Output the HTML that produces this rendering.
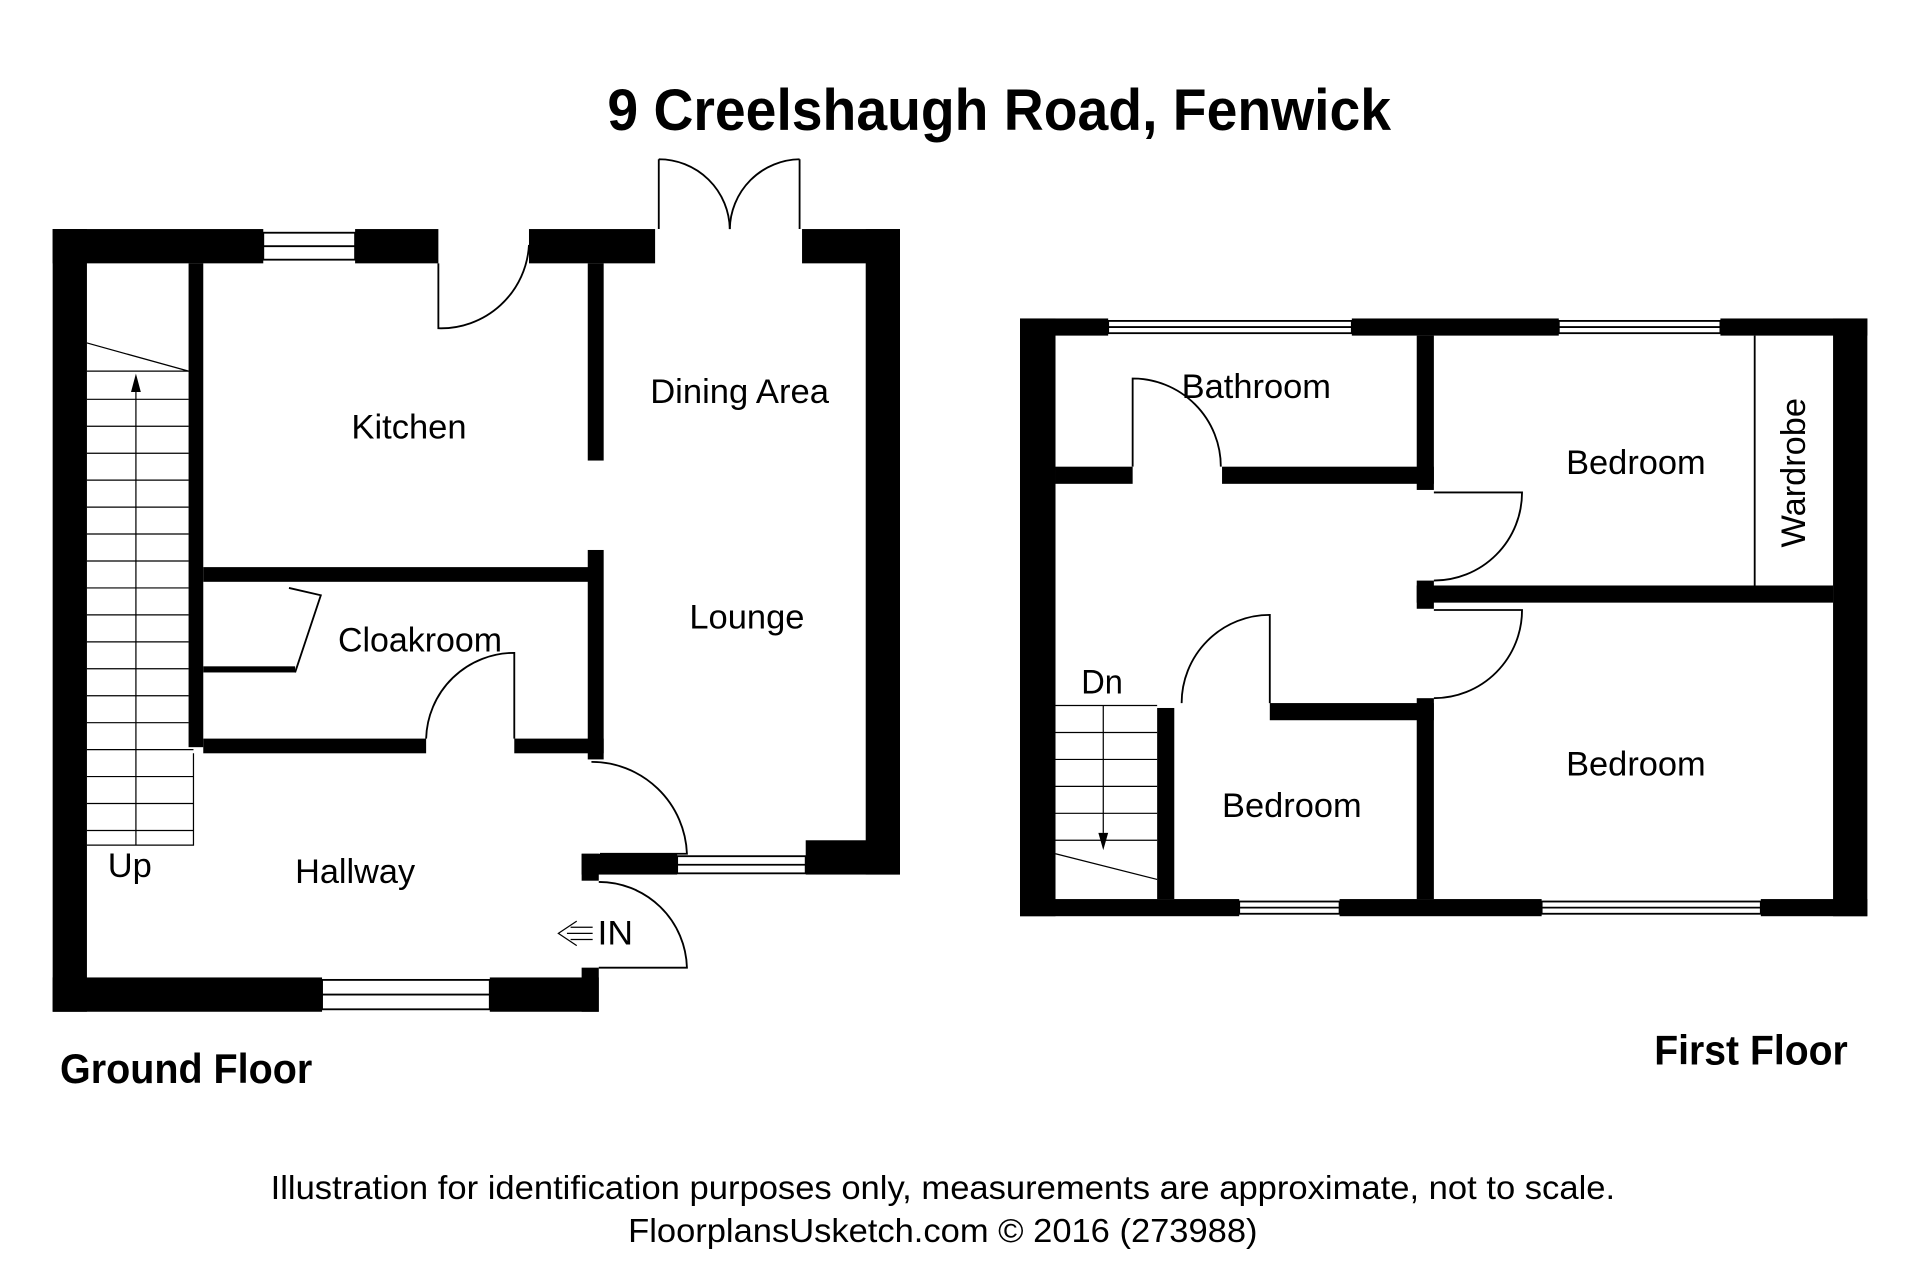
<!DOCTYPE html>
<html><head><meta charset="utf-8"><style>
html,body{margin:0;padding:0;background:#fff;}
svg{display:block;}
text{font-family:"Liberation Sans Narrow","Liberation Sans",sans-serif;fill:#000;}
</style></head><body>
<svg width="1920" height="1280" viewBox="0 0 1568 1045" preserveAspectRatio="none" xmlns="http://www.w3.org/2000/svg">
<rect width="1568" height="1045" fill="#fff"/>
<text x="816" y="106" font-size="48" font-weight="bold" text-anchor="middle" textLength="640" lengthAdjust="spacingAndGlyphs">9 Creelshaugh Road, Fenwick</text>

<g fill="#000">
<rect x="43" y="187" width="28" height="639"/>
<rect x="43" y="187" width="172" height="28"/>
<rect x="290" y="187" width="68" height="28"/>
<rect x="432" y="187" width="103" height="28"/>
<rect x="655" y="187" width="80" height="28"/>
<rect x="707" y="187" width="28" height="527"/>
<rect x="658" y="686" width="77" height="28"/>
<rect x="475" y="697" width="78" height="17"/>
<rect x="475" y="697" width="14" height="22"/>
<rect x="475" y="790" width="14" height="36"/>
<rect x="43" y="798" width="220" height="28"/>
<rect x="400" y="798" width="89" height="28"/>
<rect x="154" y="215" width="12" height="395"/>
<rect x="166" y="463" width="324" height="12"/>
<rect x="480" y="215" width="13" height="161"/>
<rect x="480" y="449" width="13" height="171"/>
<rect x="166" y="603" width="182" height="12"/>
<rect x="420" y="603" width="73" height="12"/>
<rect x="166" y="544" width="75" height="5"/>
<rect x="833" y="260" width="29" height="488"/>
<rect x="833" y="260" width="72" height="14"/>
<rect x="1104" y="260" width="169" height="14"/>
<rect x="1405" y="260" width="120" height="14"/>
<rect x="1497" y="260" width="28" height="488"/>
<rect x="833" y="734" width="179" height="14"/>
<rect x="1094" y="734" width="165" height="14"/>
<rect x="1438" y="734" width="87" height="14"/>
<rect x="1157" y="274" width="14" height="126"/>
<rect x="1157" y="474" width="14" height="23"/>
<rect x="1157" y="570" width="14" height="164"/>
<rect x="862" y="381" width="63" height="14"/>
<rect x="998" y="381" width="173" height="14"/>
<rect x="1157" y="478" width="340" height="14"/>
<rect x="1037" y="574" width="134" height="14"/>
<rect x="945" y="578" width="14" height="156"/>
</g>

<g fill="none" stroke="#000" stroke-width="1.5">
<rect x="215" y="190" width="75" height="22" fill="#fff"/><line x1="215" y1="201" x2="290" y2="201"/>
<rect x="263" y="800" width="137" height="24"/><line x1="263" y1="812" x2="400" y2="812"/>
<rect x="553" y="699" width="105" height="14"/><line x1="553" y1="706" x2="658" y2="706"/>
<rect x="905" y="262" width="199" height="10"/><line x1="905" y1="267" x2="1104" y2="267"/>
<rect x="1273" y="262" width="132" height="10"/><line x1="1273" y1="267" x2="1405" y2="267"/>
<rect x="1012" y="736" width="82" height="10"/><line x1="1012" y1="741" x2="1094" y2="741"/>
<rect x="1259" y="736" width="179" height="10"/><line x1="1259" y1="741" x2="1438" y2="741"/>
<path d="M358 215 V268 A72 72 0 0 0 432 200"/>
<path d="M538 130 V187 M538 130 A58 58 0 0 1 596 187"/>
<path d="M653 130 V187 M653 130 A58 58 0 0 0 596 187"/>
<path d="M420 603 V533 A72 72 0 0 0 348 603"/>
<path d="M483 622 A78 78 0 0 1 561 697 H490"/>
<path d="M489 720 A72 72 0 0 1 561 790 H489"/>
<path d="M241 549 L262 486 L236 480"/>
<path d="M925 381 V309 A72 72 0 0 1 997 381"/>
<path d="M1171 474 A72 72 0 0 0 1243 402 H1171"/>
<path d="M1171 570 A72 72 0 0 0 1243 498 H1171"/>
<path d="M1037 574 V502 A72 72 0 0 0 965 574"/>
<line x1="1433" y1="274" x2="1433" y2="478"/>
</g>

<g stroke="#000" stroke-width="1" fill="none">
<path d="M71 280 L154 303"/>
<line x1="71" y1="303" x2="154" y2="303"/>
<line x1="71" y1="326" x2="154" y2="326"/>
<line x1="71" y1="348" x2="154" y2="348"/>
<line x1="71" y1="370" x2="154" y2="370"/>
<line x1="71" y1="392" x2="154" y2="392"/>
<line x1="71" y1="414" x2="154" y2="414"/>
<line x1="71" y1="436" x2="154" y2="436"/>
<line x1="71" y1="458" x2="154" y2="458"/>
<line x1="71" y1="480" x2="154" y2="480"/>
<line x1="71" y1="502" x2="154" y2="502"/>
<line x1="71" y1="524" x2="154" y2="524"/>
<line x1="71" y1="546" x2="154" y2="546"/>
<line x1="71" y1="568" x2="154" y2="568"/>
<line x1="71" y1="590" x2="154" y2="590"/>
<line x1="71" y1="612" x2="158" y2="612"/>
<line x1="71" y1="634" x2="158" y2="634"/>
<line x1="71" y1="656" x2="158" y2="656"/>
<line x1="71" y1="678" x2="158" y2="678"/>
<path d="M71 690 H158 V615"/>
<line x1="111" y1="320" x2="111" y2="690"/>
</g>
<path d="M107 320 L111 305 L115 320 Z" fill="#000"/>
<g stroke="#000" stroke-width="1" fill="none">
<path d="M862 576 H945"/>
<line x1="862" y1="598" x2="945" y2="598"/>
<line x1="862" y1="620" x2="945" y2="620"/>
<line x1="862" y1="642" x2="945" y2="642"/>
<line x1="862" y1="664" x2="945" y2="664"/>
<line x1="862" y1="686" x2="945" y2="686"/>
<path d="M862 697 L945 718"/>
<line x1="901" y1="576" x2="901" y2="680"/>
</g>
<path d="M897 680 L901 694 L905 680 Z" fill="#000"/>
<path d="M484 762 H463 M471 752 L456 762 L471 772 M484 757 H466 M484 767 H466" stroke="#000" stroke-width="1" fill="none"/>

<g font-size="28">
<text x="334" y="358" text-anchor="middle" textLength="94" lengthAdjust="spacingAndGlyphs">Kitchen</text>
<text x="604" y="329" text-anchor="middle" textLength="146" lengthAdjust="spacingAndGlyphs">Dining Area</text>
<text x="610" y="513" text-anchor="middle" textLength="94" lengthAdjust="spacingAndGlyphs">Lounge</text>
<text x="343" y="532" text-anchor="middle" textLength="134" lengthAdjust="spacingAndGlyphs">Cloakroom</text>
<text x="290" y="721" text-anchor="middle" textLength="98" lengthAdjust="spacingAndGlyphs">Hallway</text>
<text x="106" y="716" text-anchor="middle" textLength="36" lengthAdjust="spacingAndGlyphs">Up</text>
<text x="488" y="771" textLength="29" lengthAdjust="spacingAndGlyphs">IN</text>
<text x="1026" y="325" text-anchor="middle" textLength="122" lengthAdjust="spacingAndGlyphs">Bathroom</text>
<text x="1336" y="387" text-anchor="middle" textLength="114" lengthAdjust="spacingAndGlyphs">Bedroom</text>
<text x="1336" y="633" text-anchor="middle" textLength="114" lengthAdjust="spacingAndGlyphs">Bedroom</text>
<text x="1055" y="667" text-anchor="middle" textLength="114" lengthAdjust="spacingAndGlyphs">Bedroom</text>
<text x="900" y="566" text-anchor="middle" textLength="34" lengthAdjust="spacingAndGlyphs">Dn</text>
<text transform="translate(1474 386) rotate(-90)" text-anchor="middle" textLength="122" lengthAdjust="spacingAndGlyphs">Wardrobe</text>
</g>
<text x="152" y="884" font-size="34" font-weight="bold" text-anchor="middle" textLength="206" lengthAdjust="spacingAndGlyphs">Ground Floor</text>
<text x="1430" y="869" font-size="34" font-weight="bold" text-anchor="middle" textLength="158" lengthAdjust="spacingAndGlyphs">First Floor</text>
<text x="770" y="979" font-size="27" text-anchor="middle" textLength="1098" lengthAdjust="spacingAndGlyphs">Illustration for identification purposes only, measurements are approximate, not to scale.</text>
<text x="770" y="1014" font-size="27" text-anchor="middle" textLength="514" lengthAdjust="spacingAndGlyphs">FloorplansUsketch.com © 2016 (273988)</text>
</svg>
</body></html>
